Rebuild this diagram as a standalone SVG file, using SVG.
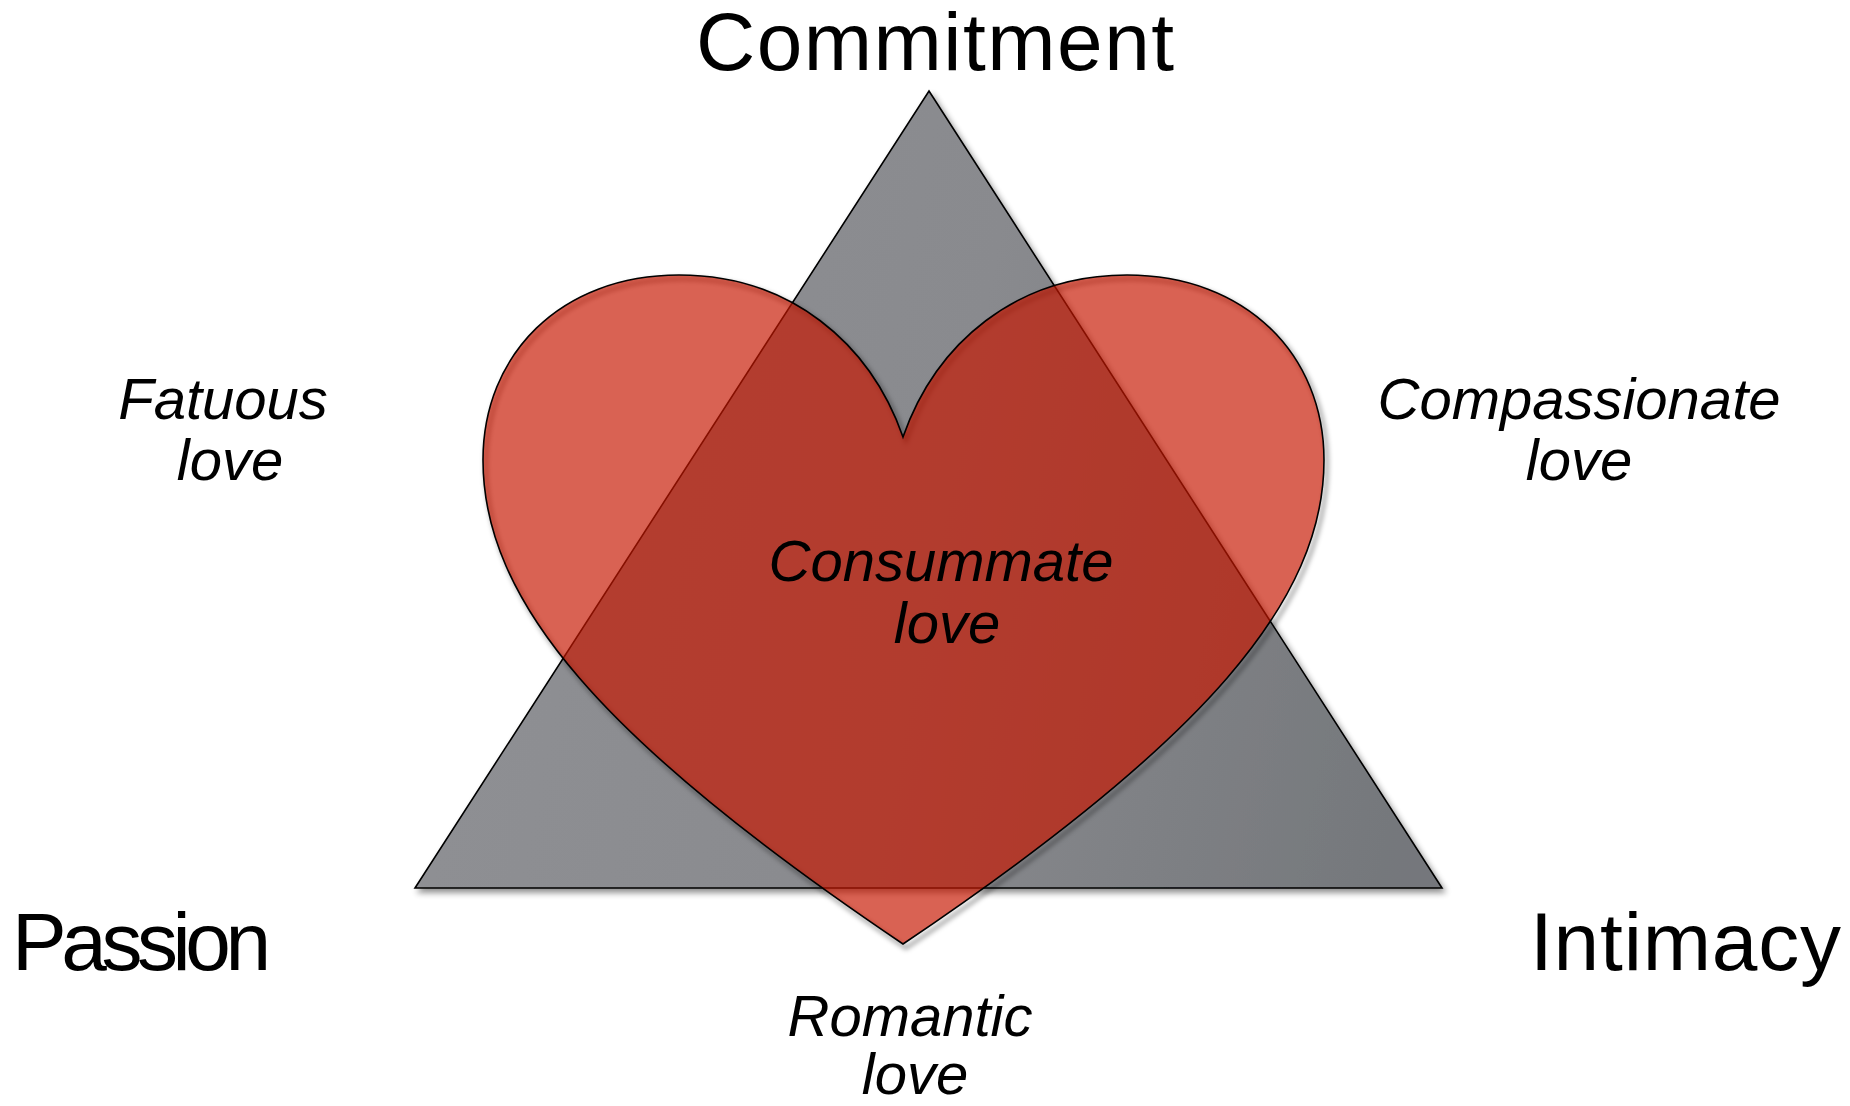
<svg xmlns="http://www.w3.org/2000/svg" width="1850" height="1106" viewBox="0 0 1850 1106">
<defs>
<linearGradient id="triGrad" x1="415" y1="500" x2="1442" y2="700" gradientUnits="userSpaceOnUse">
<stop offset="0" stop-color="#8f9094"/>
<stop offset="0.5" stop-color="#898a8e"/>
<stop offset="1" stop-color="#74777b"/>
</linearGradient>
<filter id="shadow" x="-10%" y="-10%" width="130%" height="130%">
<feGaussianBlur in="SourceAlpha" stdDeviation="3"/>
<feOffset dx="3" dy="4" result="b"/>
<feComponentTransfer><feFuncA type="linear" slope="0.45"/></feComponentTransfer>
<feMerge><feMergeNode/><feMergeNode in="SourceGraphic"/></feMerge>
</filter>
<filter id="blur" x="-10%" y="-10%" width="130%" height="130%">
<feGaussianBlur stdDeviation="2.5"/>
</filter>
</defs>
<style>
.big{font-family:"Liberation Sans",Arial,sans-serif;font-size:82px;fill:#000}
.lbl{font-family:"Liberation Sans",Arial,sans-serif;font-size:58px;font-style:italic;fill:#000;text-anchor:middle}
.edge{stroke:#000;stroke-width:1.6;stroke-linejoin:miter}
</style>
<rect width="1850" height="1106" fill="#fff"/>
<g id="triangle">
<polygon points="929,91 1442,888 415,888" fill="url(#triGrad)" class="edge" filter="url(#shadow)"/>
</g>
<g id="heart">
<path d="M903 437 C870 343 790 275 679 275 C560 275 483 355 483 460 C483 600 600 740 903 944 C1206 740 1324 600 1324 460 C1324 355 1246 275 1127 275 C1016 275 936 343 903 437 Z" fill="none" stroke="#000" stroke-opacity="0.45" stroke-width="3" transform="translate(3,4)" filter="url(#blur)"/>
<path d="M903 437 C870 343 790 275 679 275 C560 275 483 355 483 460 C483 600 600 740 903 944 C1206 740 1324 600 1324 460 C1324 355 1246 275 1127 275 C1016 275 936 343 903 437 Z" fill="rgb(199,22,0)" fill-opacity="0.675" class="edge"/>
</g>
<g id="commitment"><text class="big" x="696" y="70" textLength="478">Commitment</text></g>
<g id="passion"><text class="big" x="12" y="970" textLength="259">Passion</text></g>
<g id="intimacy"><text class="big" x="1530" y="970" textLength="311">Intimacy</text></g>
<g id="fatuous"><text class="lbl" x="223" y="419">Fatuous</text><text class="lbl" x="230" y="480">love</text></g>
<g id="compassionate"><text class="lbl" x="1579" y="419">Compassionate</text><text class="lbl" x="1579" y="480">love</text></g>
<g id="consummate"><text class="lbl" x="941" y="581">Consummate</text><text class="lbl" x="947" y="643">love</text></g>
<g id="romantic"><text class="lbl" x="910" y="1036">Romantic</text><text class="lbl" x="915" y="1094">love</text></g>
</svg>
